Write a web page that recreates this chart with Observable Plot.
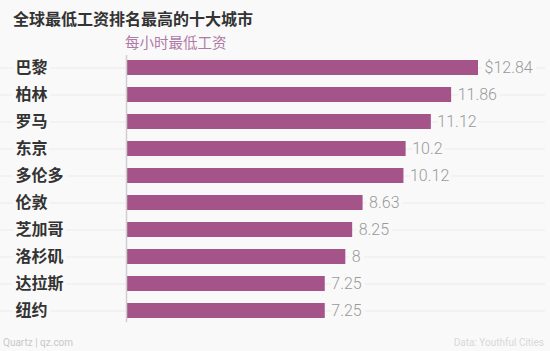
<!DOCTYPE html>
<html>
<head>
<meta charset="utf-8">
<script src="https://cdn.jsdelivr.net/npm/d3@7"></script>
<script src="https://cdn.jsdelivr.net/npm/@observablehq/plot@0.6"></script>
<style>
  html, body { margin: 0; padding: 0; background: #f9f9f9; }
  #wrap { width: 550px; height: 351px; position: relative; overflow: hidden; background: #f9f9f9;
          font-family: "Noto Sans CJK SC", "Noto Sans", sans-serif; }
  #title { position: absolute; left: 13px; top: 6px; font-size: 16px; font-weight: bold; color: #333; line-height: 24px; }
  #subtitle { position: absolute; left: 125px; top: 32px; font-size: 14.5px; color: #b07aa6; line-height: 20px; }
  #chart { position: absolute; left: 0; top: 51px; }
  #src1 { position: absolute; left: 3px; top: 337px; font-size: 10px; color: #c8c8c8; font-family: Roboto, "Noto Sans", sans-serif; }
  #src2 { position: absolute; right: 6px; top: 337px; font-size: 10px; color: #d8d8d8; font-family: Roboto, "Noto Sans", sans-serif; }
</style>
</head>
<body>
<div id="wrap">
  <div id="title">全球最低工资排名最高的十大城市</div>
  <div id="subtitle">每小时最低工资</div>
  <div id="chart"></div>
  <div id="src1">Quartz | qz.com</div>
  <div id="src2">Data: Youthful Cities</div>
</div>
<script>
const cities = ["巴黎", "柏林", "罗马", "东京", "多伦多", "伦敦", "芝加哥", "洛杉矶", "达拉斯", "纽约"];
const wages = [12.84, 11.86, 11.12, 10.2, 10.12, 8.63, 8.25, 8, 7.25, 7.25];
const valueLabels = ["$12.84", "11.86", "11.12", "10.2", "10.12", "8.63", "8.25", "8", "7.25", "7.25"];

const data = cities.map((c, i) => ({ city: c, wage: wages[i], label: valueLabels[i] }));
const bg = "#f9f9f9";

const chart = Plot.plot({
  width: 550,
  height: 280,
  marginLeft: 0,
  marginRight: 5,
  marginTop: 4,
  marginBottom: 9,
  style: { background: "transparent", overflow: "visible" },
  x: { domain: [0, 12.84], range: [126, 478], axis: null },
  y: { domain: cities, axis: null, paddingInner: 0.46, paddingOuter: 0.15 },
  marks: [
    Plot.ruleY(data, { y: "city", stroke: "#ebebeb", strokeWidth: 1 }),
    Plot.text(data, {
      y: "city", text: "city", frameAnchor: "left", dx: 15, textAnchor: "start",
      fontSize: 16, fontWeight: "bold", fill: "#333",
      fontFamily: "'Noto Sans CJK SC', sans-serif",
      stroke: bg, strokeWidth: 8
    }),
    Plot.barX(data, { x: "wage", y: "city", fill: "#a5548a" }),
    Plot.ruleX([0], { stroke: "#cfcfcf", strokeWidth: 1.5 }),
    Plot.text(data, {
      x: "wage", y: "city", text: "label", dx: 6, textAnchor: "start",
      fontSize: 16, fill: "#9a9a9a", fontWeight: 300,
      fontFamily: "Roboto, 'Noto Sans', sans-serif",
      stroke: bg, strokeWidth: 8
    })
  ]
});
document.getElementById("chart").appendChild(chart);
</script>
</body>
</html>
